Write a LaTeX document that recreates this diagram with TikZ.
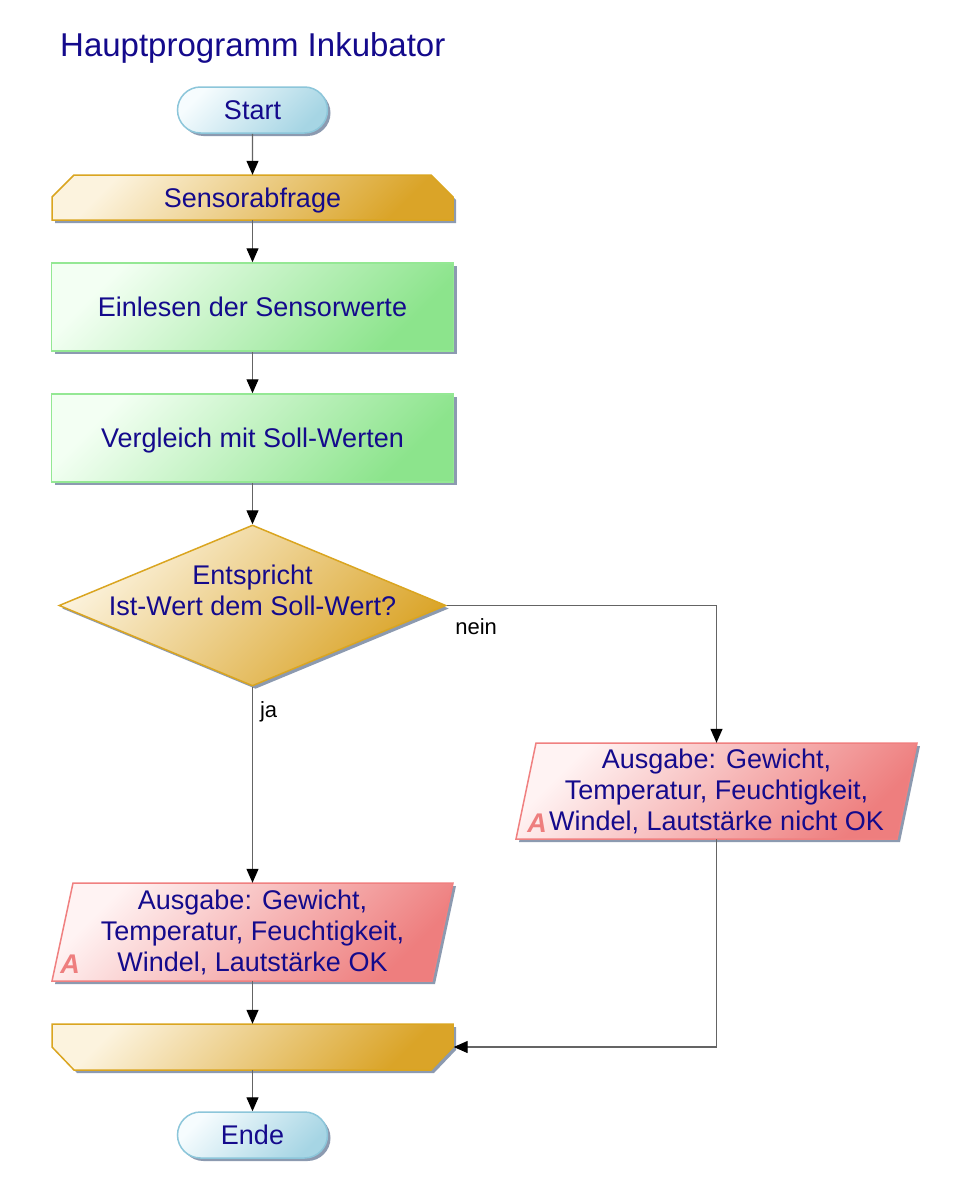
\documentclass[tikz,border=0pt]{standalone}
\usepackage{fontspec}
\setmainfont{Liberation Sans}
\usetikzlibrary{arrows.meta,shapes.geometric,shapes.misc,shadows,backgrounds}
\definecolor{txtc}{RGB}{20,10,140}
\definecolor{connc}{RGB}{100,100,100}
\definecolor{shadc}{RGB}{128,144,168}
\definecolor{termL}{RGB}{246,252,254}
\definecolor{termD}{RGB}{166,213,228}
\definecolor{termB}{RGB}{140,198,218}
\definecolor{goldL}{RGB}{252,243,222}
\definecolor{goldD}{RGB}{218,164,40}
\definecolor{goldB}{RGB}{218,165,32}
\definecolor{greenL}{RGB}{243,255,243}
\definecolor{greenD}{RGB}{140,228,140}
\definecolor{greenB}{RGB}{148,232,148}
\definecolor{redL}{RGB}{255,243,243}
\definecolor{redD}{RGB}{238,126,126}
\definecolor{redB}{RGB}{240,128,128}
\tikzset{
  txt/.style={text=txtc, font=\fontsize{27}{31}\selectfont},
  conn/.style={draw=connc, line width=1.2pt, -{Triangle[width=12pt,length=14pt,color=black]}},
  shad/.style={drop shadow={shadow xshift=3pt, shadow yshift=-3pt, fill=shadc, opacity=0.9}},
  term/.style={rounded rectangle, minimum width=150pt, minimum height=46pt, inner sep=0pt,
    draw=termB, line width=1.5pt, top color=termL, bottom color=termD, shading angle=45,
    shad, txt, text height=19.5pt, text depth=0pt},
  procbox/.style={rectangle, minimum width=402pt, minimum height=88pt, inner sep=0pt,
    draw=greenB, line width=1.5pt, top color=greenL, bottom color=greenD, shading angle=45,
    shad, txt, text height=19.5pt, text depth=0pt},
  goldfill/.style={draw=goldB, line width=1.5pt, top color=goldL, bottom color=goldD, shading angle=45, shad},
  redfill/.style={draw=redB, line width=1.5pt, top color=redL, bottom color=redD, shading angle=45, shad},
  frame/.style={rectangle, inner sep=0pt, txt},
  lbl/.style={font=\fontsize{22}{26}\selectfont, text=black, inner sep=0pt},
  amark/.style={font=\fontsize{27}{31}\selectfont\bfseries\itshape, text=redD, inner sep=0pt},
  titlestyle/.style={font=\fontsize{33}{38}\selectfont, text=txtc, inner sep=0pt},
}
\begin{document}
\begin{tikzpicture}[x=1pt,y=-1pt]
\useasboundingbox (0,0) rectangle (968,1199);

\node[titlestyle, anchor=base west] (title) at (60,57) {Hauptprogramm Inkubator};
\node[term] (start) at (252.5,110) {Start};
\node[frame, minimum width=402pt, minimum height=45pt, text height=19.5pt, text depth=0pt] (sens) at (252.5,197.5) {Sensorabfrage};
\node[procbox] (ein) at (252.5,307) {Einlesen der Sensorwerte};
\node[procbox] (ver) at (252.5,438) {Vergleich mit Soll-Werten};
\node[diamond, minimum width=387pt, minimum height=161pt, inner sep=0pt, goldfill] (dia) at (252.5,605.5) {};
\node[txt, align=center, inner sep=0pt] (diatext) at (252.5,590) {Entspricht\\Ist-Wert dem Soll-Wert?};
\node[frame, minimum width=401pt, minimum height=98pt, align=center] (outL) at (252.5,932) {Ausgabe: Gewicht,\\Temperatur, Feuchtigkeit,\\Windel, Lautstärke OK};
\node[frame, minimum width=401pt, minimum height=96pt, align=center] (outR) at (716.5,791) {Ausgabe: Gewicht,\\Temperatur, Feuchtigkeit,\\Windel, Lautstärke nicht OK};
\node[frame, minimum width=402pt, minimum height=46pt] (loop) at (252.5,1047) {};
\node[term] (ende) at (252.5,1135) {Ende};
\node[amark] (aL) at (70,964) {A};
\node[amark] (aR) at (537,823) {A};

\begin{scope}[on background layer]
  \fill[white] (0,0) rectangle (968,1199);
  \path[goldfill] (52,220) -- (52,197) -- (74,175) -- (431,175) -- (453,197) -- (453,220) -- cycle;
  \path[goldfill] (52,1024) -- (453,1024) -- (453,1047) -- (431,1070) -- (74,1070) -- (52,1047) -- cycle;
  \path[redfill] (73,883) -- (453,883) -- (432,981) -- (52,981) -- cycle;
  \path[redfill] (536,743) -- (917,743) -- (897,839) -- (516,839) -- cycle;
\end{scope}

\draw[conn] (start) -- (sens);
\draw[conn] (sens) -- (ein);
\draw[conn] (ein) -- (ver);
\draw[conn] (ver) -- (dia);
\draw[conn] (dia.south) -- node[lbl, pos=0, anchor=north west, xshift=7pt, yshift=-14pt] (ja) {ja} (outL.north);
\draw[conn] (dia.east) -| node[lbl, pos=0, anchor=north west, xshift=8pt, yshift=-12pt] (nein) {nein} (outR.north);
\draw[conn] (outL) -- (loop);
\draw[conn] (outR.south) |- (loop.east);
\draw[conn] (loop) -- (ende);
\end{tikzpicture}
\end{document}
